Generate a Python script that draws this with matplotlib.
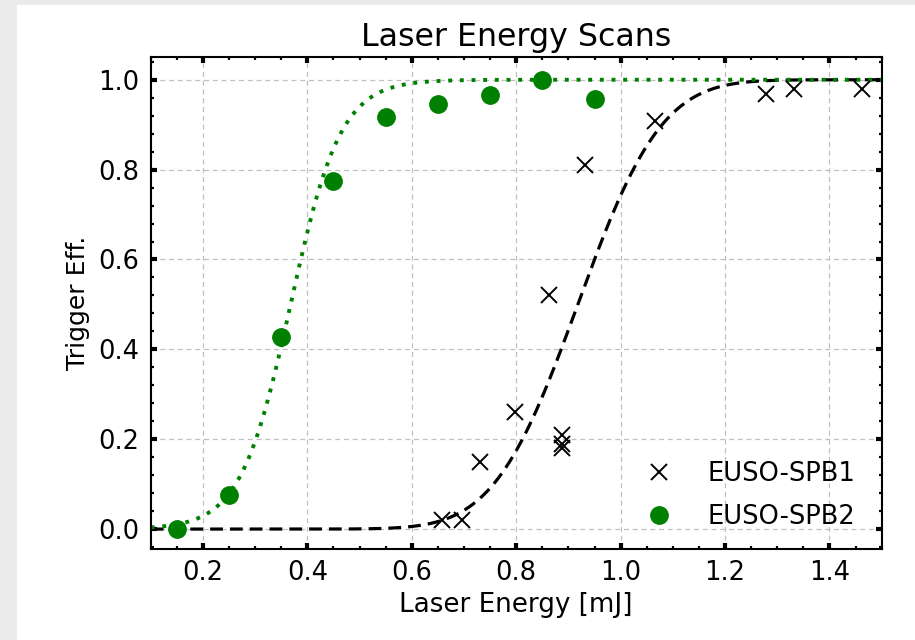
import math
import numpy as np
import matplotlib
matplotlib.use("Agg")
import matplotlib.pyplot as plt
from matplotlib.patches import Rectangle
from matplotlib.ticker import MultipleLocator

# EUSO-SPB1 laser scan measurements
spb1_energy = [0.658, 0.696, 0.731, 0.798, 0.863, 0.887, 0.887, 0.888, 0.932, 1.066, 1.279, 1.332, 1.463]
spb1_eff = [0.021, 0.021, 0.150, 0.261, 0.521, 0.210, 0.190, 0.180, 0.810, 0.908, 0.969, 0.980, 0.980]

# EUSO-SPB2 laser scan measurements
spb2_energy = [0.15, 0.25, 0.35, 0.45, 0.55, 0.65, 0.75, 0.85, 0.95]
spb2_eff = [0.000, 0.076, 0.428, 0.774, 0.918, 0.945, 0.967, 1.000, 0.957]

# Fitted turn-on curves: SPB1 error function (mean, width), SPB2 logistic (midpoint, scale)
spb1_fit = (0.918, 0.126)
spb2_fit = (0.368, 0.048)

labels = ["EUSO-SPB1", "EUSO-SPB2"]


def erf_curve(x, mu, sigma):
    erf = np.vectorize(math.erf)
    return 0.5 * (1.0 + erf((x - mu) / (sigma * math.sqrt(2.0))))


def logistic_curve(x, x0, w):
    return 1.0 / (1.0 + np.exp(-(x - x0) / w))


fig = plt.figure(figsize=(9.15, 6.4), dpi=100)
fig.patch.set_facecolor("#ebebeb")
fig.patches.append(Rectangle((17 / 915, 0), 1, 635 / 640, transform=fig.transFigure,
                             facecolor="white", edgecolor="none", zorder=-10))

ax = fig.add_axes([0.1647, 0.1417, 0.7989, 0.7688])

xs = np.linspace(0.1, 1.5, 600)
ax.plot(xs, erf_curve(xs, *spb1_fit), color="black", ls=(0, (4, 2.2)), lw=2.3, zorder=2)
ax.plot(xs, logistic_curve(xs, *spb2_fit), color="green", ls=(0, (1, 2.0)), lw=2.8, zorder=2)

ax.plot(spb1_energy, spb1_eff, ls="none", marker="x", ms=12, mew=1.4, color="black",
        label=labels[0], zorder=3)
ax.plot(spb2_energy, spb2_eff, ls="none", marker="o", ms=12.5, color="green",
        label=labels[1], zorder=3)

ax.set_xlim(0.1, 1.5)
ax.set_ylim(-0.045, 1.05)
ax.xaxis.set_major_locator(MultipleLocator(0.2))
ax.xaxis.set_minor_locator(MultipleLocator(0.05))
ax.yaxis.set_major_locator(MultipleLocator(0.2))
ax.yaxis.set_minor_locator(MultipleLocator(0.04))

ax.tick_params(which="both", direction="in", top=True, right=True, labelsize=18.5, color="black")
ax.tick_params(which="major", length=4, width=3, pad=8)
ax.tick_params(which="minor", length=2.5, width=1.6)
for s in ax.spines.values():
    s.set_linewidth(1.5)

ax.grid(True, which="major", ls=(0, (4, 3)), color="#c0c0c0", lw=0.9)
ax.set_axisbelow(True)

ax.set_title("Laser Energy Scans", fontsize=22.8, pad=8)
ax.set_xlabel("Laser Energy [mJ]", fontsize=18.8, labelpad=4)
ax.set_ylabel("Trigger Eff.", fontsize=18, labelpad=6)

ax.legend(loc="lower right", bbox_to_anchor=(0.991, 0.0), frameon=False, fontsize=18.5,
          handletextpad=0.9, borderaxespad=0.35, labelspacing=0.65)

fig.savefig("out.png", dpi=100, facecolor=fig.get_facecolor())
